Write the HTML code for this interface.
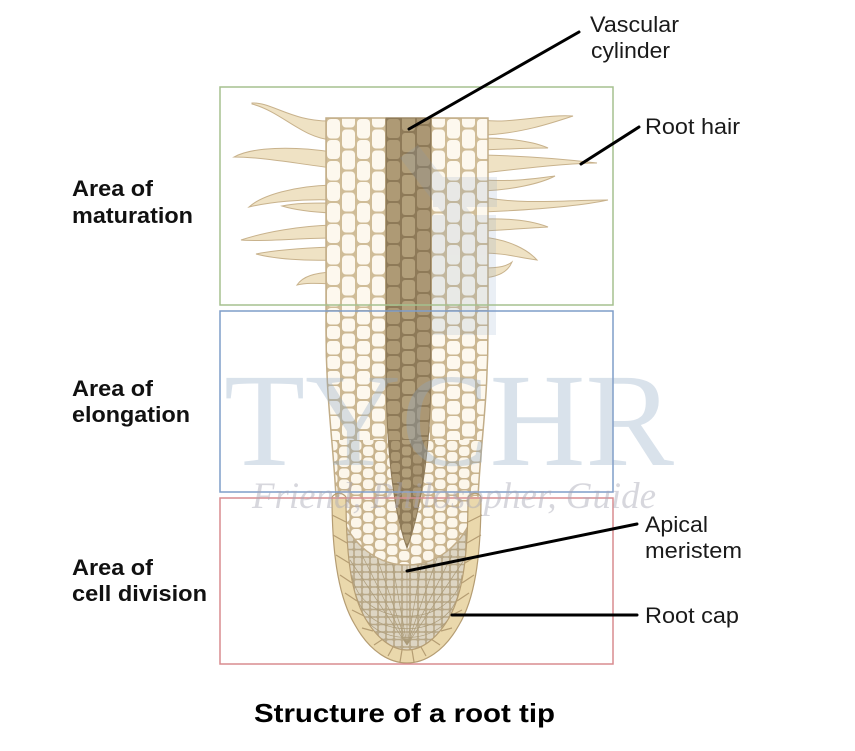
<!DOCTYPE html>
<html><head><meta charset="utf-8"><style>
html,body{margin:0;padding:0;background:#fff;}
svg{display:block;}
</style></head><body>
<svg width="855" height="751" viewBox="0 0 855 751" xmlns="http://www.w3.org/2000/svg">
<defs>
  <pattern id="cm" patternUnits="userSpaceOnUse" x="326" y="118" width="30" height="42">
    <rect width="30" height="42" fill="#d0bd98"/>
    <rect x="1" y="1" width="13" height="19.5" rx="4" fill="#fdf8ee"/>
    <rect x="1" y="22" width="13" height="19" rx="4" fill="#fdf8ee"/>
    <rect x="16" y="-9.5" width="13" height="19" rx="4" fill="#fdf8ee"/>
    <rect x="16" y="11.5" width="13" height="19" rx="4" fill="#fdf8ee"/>
    <rect x="16" y="32.5" width="13" height="19" rx="4" fill="#fdf8ee"/>
  </pattern>
  <pattern id="ce" patternUnits="userSpaceOnUse" x="326" y="310" width="30" height="30">
    <rect width="30" height="30" fill="#ccb893"/>
    <rect x="1" y="1" width="13" height="13.5" rx="3.5" fill="#fdf8ee"/>
    <rect x="1" y="16" width="13" height="13" rx="3.5" fill="#fdf8ee"/>
    <rect x="16" y="-6.5" width="13" height="13" rx="3.5" fill="#fdf8ee"/>
    <rect x="16" y="8.5" width="13" height="13" rx="3.5" fill="#fdf8ee"/>
    <rect x="16" y="23.5" width="13" height="13" rx="3.5" fill="#fdf8ee"/>
  </pattern>
  <pattern id="cl" patternUnits="userSpaceOnUse" x="326" y="440" width="24" height="22">
    <rect width="24" height="22" fill="#c9b48e"/>
    <rect x="1" y="1" width="10.5" height="9.5" rx="3.5" fill="#fcf6ea"/>
    <rect x="1" y="12" width="10.5" height="9.5" rx="3.5" fill="#fcf6ea"/>
    <rect x="13" y="-4.5" width="10.5" height="9.5" rx="3.5" fill="#fcf6ea"/>
    <rect x="13" y="6.5" width="10.5" height="9.5" rx="3.5" fill="#fcf6ea"/>
    <rect x="13" y="17.5" width="10.5" height="9.5" rx="3.5" fill="#fcf6ea"/>
  </pattern>
  <pattern id="vm" patternUnits="userSpaceOnUse" x="386" y="118" width="45" height="21">
    <rect width="45" height="21" fill="#8e7a58"/>
    <rect x="1" y="1" width="13" height="19" rx="3" fill="#ae9a75"/>
    <rect x="16" y="-6" width="13" height="19" rx="3" fill="#b3a07b"/>
    <rect x="16" y="15" width="13" height="19" rx="3" fill="#b3a07b"/>
    <rect x="31" y="-13" width="13" height="19" rx="3" fill="#ab9774"/>
    <rect x="31" y="8" width="13" height="19" rx="3" fill="#ab9774"/>
  </pattern>
  <pattern id="ve" patternUnits="userSpaceOnUse" x="386" y="310" width="45" height="15">
    <rect width="45" height="15" fill="#8e7a58"/>
    <rect x="1" y="1" width="13" height="13" rx="3" fill="#ae9a75"/>
    <rect x="16" y="-4" width="13" height="13" rx="3" fill="#b3a07b"/>
    <rect x="16" y="11" width="13" height="13" rx="3" fill="#b3a07b"/>
    <rect x="31" y="-8" width="13" height="13" rx="3" fill="#ab9774"/>
    <rect x="31" y="7" width="13" height="13" rx="3" fill="#ab9774"/>
  </pattern>
  <pattern id="vl" patternUnits="userSpaceOnUse" x="390" y="440" width="33" height="11">
    <rect width="33" height="11" fill="#8e7a58"/>
    <rect x="1" y="1" width="9" height="9" rx="2.5" fill="#ae9a75"/>
    <rect x="12" y="-4.5" width="9" height="9" rx="2.5" fill="#b3a07b"/>
    <rect x="12" y="6.5" width="9" height="9" rx="2.5" fill="#b3a07b"/>
    <rect x="23" y="-7.5" width="9" height="9" rx="2.5" fill="#ab9774"/>
    <rect x="23" y="3.5" width="9" height="9" rx="2.5" fill="#ab9774"/>
  </pattern>
  <pattern id="mp" patternUnits="userSpaceOnUse" x="346" y="497" width="8" height="7.5">
    <rect width="8" height="7.5" fill="#b8a888"/>
    <rect x="0.8" y="0.8" width="6.4" height="5.9" rx="1.5" fill="#ddd5c3"/>
  </pattern>
  <clipPath id="cortexClip">
    <path d="M326,118 H488 V330 C488,400 481,440 478,497 C470,540 440,565 407,565 C374,565 344,540 336,497 C333,440 326,400 326,330 Z"/>
  </clipPath>
  <clipPath id="vascClip">
    <path d="M386,118 H431 V380 C430,450 421,510 407,548 C393,510 387,450 386,380 Z"/>
  </clipPath>
  <clipPath id="meriClip">
    <path d="M346,497 C346,560 352,595 365,618 C378,640 393,650 407,650 C421,650 436,640 449,618 C462,595 468,560 468,497 Z"/>
  </clipPath>
</defs>

<!-- root hairs -->
<g fill="#efe2c4" stroke="#c8b28c" stroke-width="1">
  <path d="M252,103 C272,102 292,122 332,121 L332,140 C302,138 282,112 252,104 Z"/>
  <path d="M234,157 C252,147 292,146 332,152 L332,168 C300,164 262,157 234,157 Z"/>
  <path d="M249,207 C262,195 295,186 332,185 L332,200 C300,199 270,202 249,207 Z"/>
  <path d="M282,206 C295,203 312,203 332,203 L332,213 C310,212 295,210 282,206 Z"/>
  <path d="M241,240 C265,232 300,226 332,225 L332,238 C300,238 265,242 241,240 Z"/>
  <path d="M256,254 C275,250 305,248 332,247 L332,260 C305,261 275,259 256,254 Z"/>
  <path d="M297,285 C303,276 315,273 332,272 L332,284 C315,283 305,283 297,285 Z"/>
  <path d="M483,120 C510,124 545,114 573,116 C555,122 520,134 483,135 Z"/>
  <path d="M483,138 C510,138 535,142 548,148 C530,148 505,149 483,150 Z"/>
  <path d="M483,155 C525,156 565,159 597,163 C570,163 525,168 483,173 Z"/>
  <path d="M483,180 C515,182 540,178 555,176 C540,184 510,190 483,191 Z"/>
  <path d="M483,197 C520,205 570,200 608,200 C580,206 530,210 483,212 Z"/>
  <path d="M483,219 C515,218 535,222 548,227 C530,228 505,230 483,231 Z"/>
  <path d="M483,237 C510,240 528,250 537,260 C520,258 505,253 483,253 Z"/>
  <path d="M483,268 C500,268 507,266 512,262 C508,272 498,277 483,278 Z"/>
</g>

<!-- meristem -->
<path d="M346,497 C346,560 352,595 365,618 C378,640 393,650 407,650 C421,650 436,640 449,618 C462,595 468,560 468,497 Z" fill="url(#mp)"/>
<g clip-path="url(#meriClip)" stroke="#ab9b79" stroke-width="0.7" fill="none">
  <path d="M407,645 L350,560 M407,645 L362,555 M407,645 L375,552 M407,645 L390,550 M407,645 L407,550 M407,645 L424,550 M407,645 L439,552 M407,645 L452,555 M407,645 L464,560"/>
  <path d="M352,575 C360,630 454,630 462,575 M356,595 C368,640 446,640 458,595 M362,612 C375,646 439,646 452,612"/>
</g>

<!-- cortex -->
<g clip-path="url(#cortexClip)">
  <rect x="320" y="118" width="175" height="192" fill="url(#cm)"/>
  <rect x="320" y="310" width="175" height="130" fill="url(#ce)"/>
  <rect x="320" y="440" width="175" height="130" fill="url(#cl)"/>
</g>
<path d="M326,118 H488 V330 C488,400 481,440 478,497 C470,540 440,565 407,565 C374,565 344,540 336,497 C333,440 326,400 326,330 Z" fill="none" stroke="#c2ad88" stroke-width="1.5"/>

<!-- vascular cylinder -->
<g clip-path="url(#vascClip)">
  <rect x="380" y="118" width="60" height="192" fill="url(#vm)"/>
  <rect x="380" y="310" width="60" height="130" fill="url(#ve)"/>
  <rect x="380" y="440" width="60" height="115" fill="url(#vl)"/>
</g>
<path d="M386,118 H431 V380 C430,450 421,510 407,548 C393,510 387,450 386,380 Z" fill="none" stroke="#8e7a58" stroke-width="1"/>

<!-- root cap ring -->
<path fill-rule="evenodd" fill="#ead8ac" d="M332,497 C332,560 340,600 355,625 C370,652 390,663 407,663 C424,663 444,652 459,625 C474,600 481,560 481,497 Z M346,497 C346,560 352,595 365,618 C378,640 393,650 407,650 C421,650 436,640 449,618 C462,595 468,560 468,497 Z"/>
<g fill="none" stroke="#b59d73" stroke-width="1.2">
  <path d="M332,497 C332,560 340,600 355,625 C370,652 390,663 407,663 C424,663 444,652 459,625 C474,600 481,560 481,497"/>
  <path d="M346,497 C346,560 352,595 365,618 C378,640 393,650 407,650 C421,650 436,640 449,618 C462,595 468,560 468,497"/>
  <path d="M332,497 C336,492 342,492 346,497 M468,497 C472,492 478,492 481,497"/>
  <path d="M332,515 L346,522 M333,535 L347,543 M336,555 L349,563 M340,575 L352,583 M345,593 L357,601 M352,610 L364,616 M362,628 L373,631 M374,645 L383,639 M388,656 L393,647 M400,662 L402,650"/>
  <path d="M482,515 L468,522 M481,535 L467,543 M478,555 L465,563 M474,575 L462,583 M469,593 L457,601 M462,610 L450,616 M452,628 L441,631 M440,645 L431,639 M426,656 L421,647 M414,662 L412,650"/>
</g>

<!-- logo watermark -->
<g fill="#7f9cc0" opacity="0.16">
  <polygon points="400,158 418,145 478,222 460,236"/>
  <rect x="433" y="177" width="64" height="30"/>
  <rect x="432" y="215" width="64" height="120"/>
</g>

<!-- boxes -->
<g fill="none" stroke-width="1.5">
  <rect x="220" y="87" width="393" height="218" stroke="#a5c18f"/>
  <rect x="220" y="311" width="393" height="181" stroke="#7f9dc9"/>
  <rect x="220" y="498" width="393" height="166" stroke="#d98c8f"/>
</g>

<!-- text watermark -->
<text x="224" y="465" font-family="'Liberation Serif', serif" font-size="133" fill="#8fa9c4" opacity="0.33" textLength="450" lengthAdjust="spacingAndGlyphs">TYCHR</text>
<text x="252" y="508" font-family="'Liberation Serif', serif" font-style="italic" font-size="37" fill="#a8a8b6" opacity="0.45" textLength="404" lengthAdjust="spacingAndGlyphs">Friend, Philosopher, Guide</text>

<!-- leader lines -->
<g stroke="#000" stroke-width="3" stroke-linecap="round">
  <line x1="409" y1="129" x2="579" y2="32"/>
  <line x1="581" y1="164" x2="639" y2="127"/>
  <line x1="407" y1="571" x2="637" y2="524"/>
  <line x1="452" y1="615" x2="637" y2="615"/>
</g>

<!-- labels -->
<g font-family="'Liberation Sans', Arial, sans-serif" font-weight="bold" font-size="22" fill="#111">
  <text x="72" y="196" textLength="81" lengthAdjust="spacingAndGlyphs">Area of</text>
  <text x="72" y="223" textLength="121" lengthAdjust="spacingAndGlyphs">maturation</text>
  <text x="72" y="396" textLength="81" lengthAdjust="spacingAndGlyphs">Area of</text>
  <text x="72" y="422" textLength="118" lengthAdjust="spacingAndGlyphs">elongation</text>
  <text x="72" y="575" textLength="81" lengthAdjust="spacingAndGlyphs">Area of</text>
  <text x="72" y="601" textLength="135" lengthAdjust="spacingAndGlyphs">cell division</text>
</g>
<g font-family="'Liberation Sans', Arial, sans-serif" font-size="22" fill="#1a1a1a">
  <text x="590" y="32" textLength="89" lengthAdjust="spacingAndGlyphs">Vascular</text>
  <text x="591" y="58" textLength="79" lengthAdjust="spacingAndGlyphs">cylinder</text>
  <text x="645" y="134" textLength="95" lengthAdjust="spacingAndGlyphs">Root hair</text>
  <text x="645" y="532" textLength="63" lengthAdjust="spacingAndGlyphs">Apical</text>
  <text x="645" y="558" textLength="97" lengthAdjust="spacingAndGlyphs">meristem</text>
  <text x="645" y="623" textLength="94" lengthAdjust="spacingAndGlyphs">Root cap</text>
</g>
<text x="254" y="722" font-family="'Liberation Sans', Arial, sans-serif" font-weight="bold" font-size="26" fill="#000" textLength="301" lengthAdjust="spacingAndGlyphs">Structure of a root tip</text>
</svg>
</body></html>
